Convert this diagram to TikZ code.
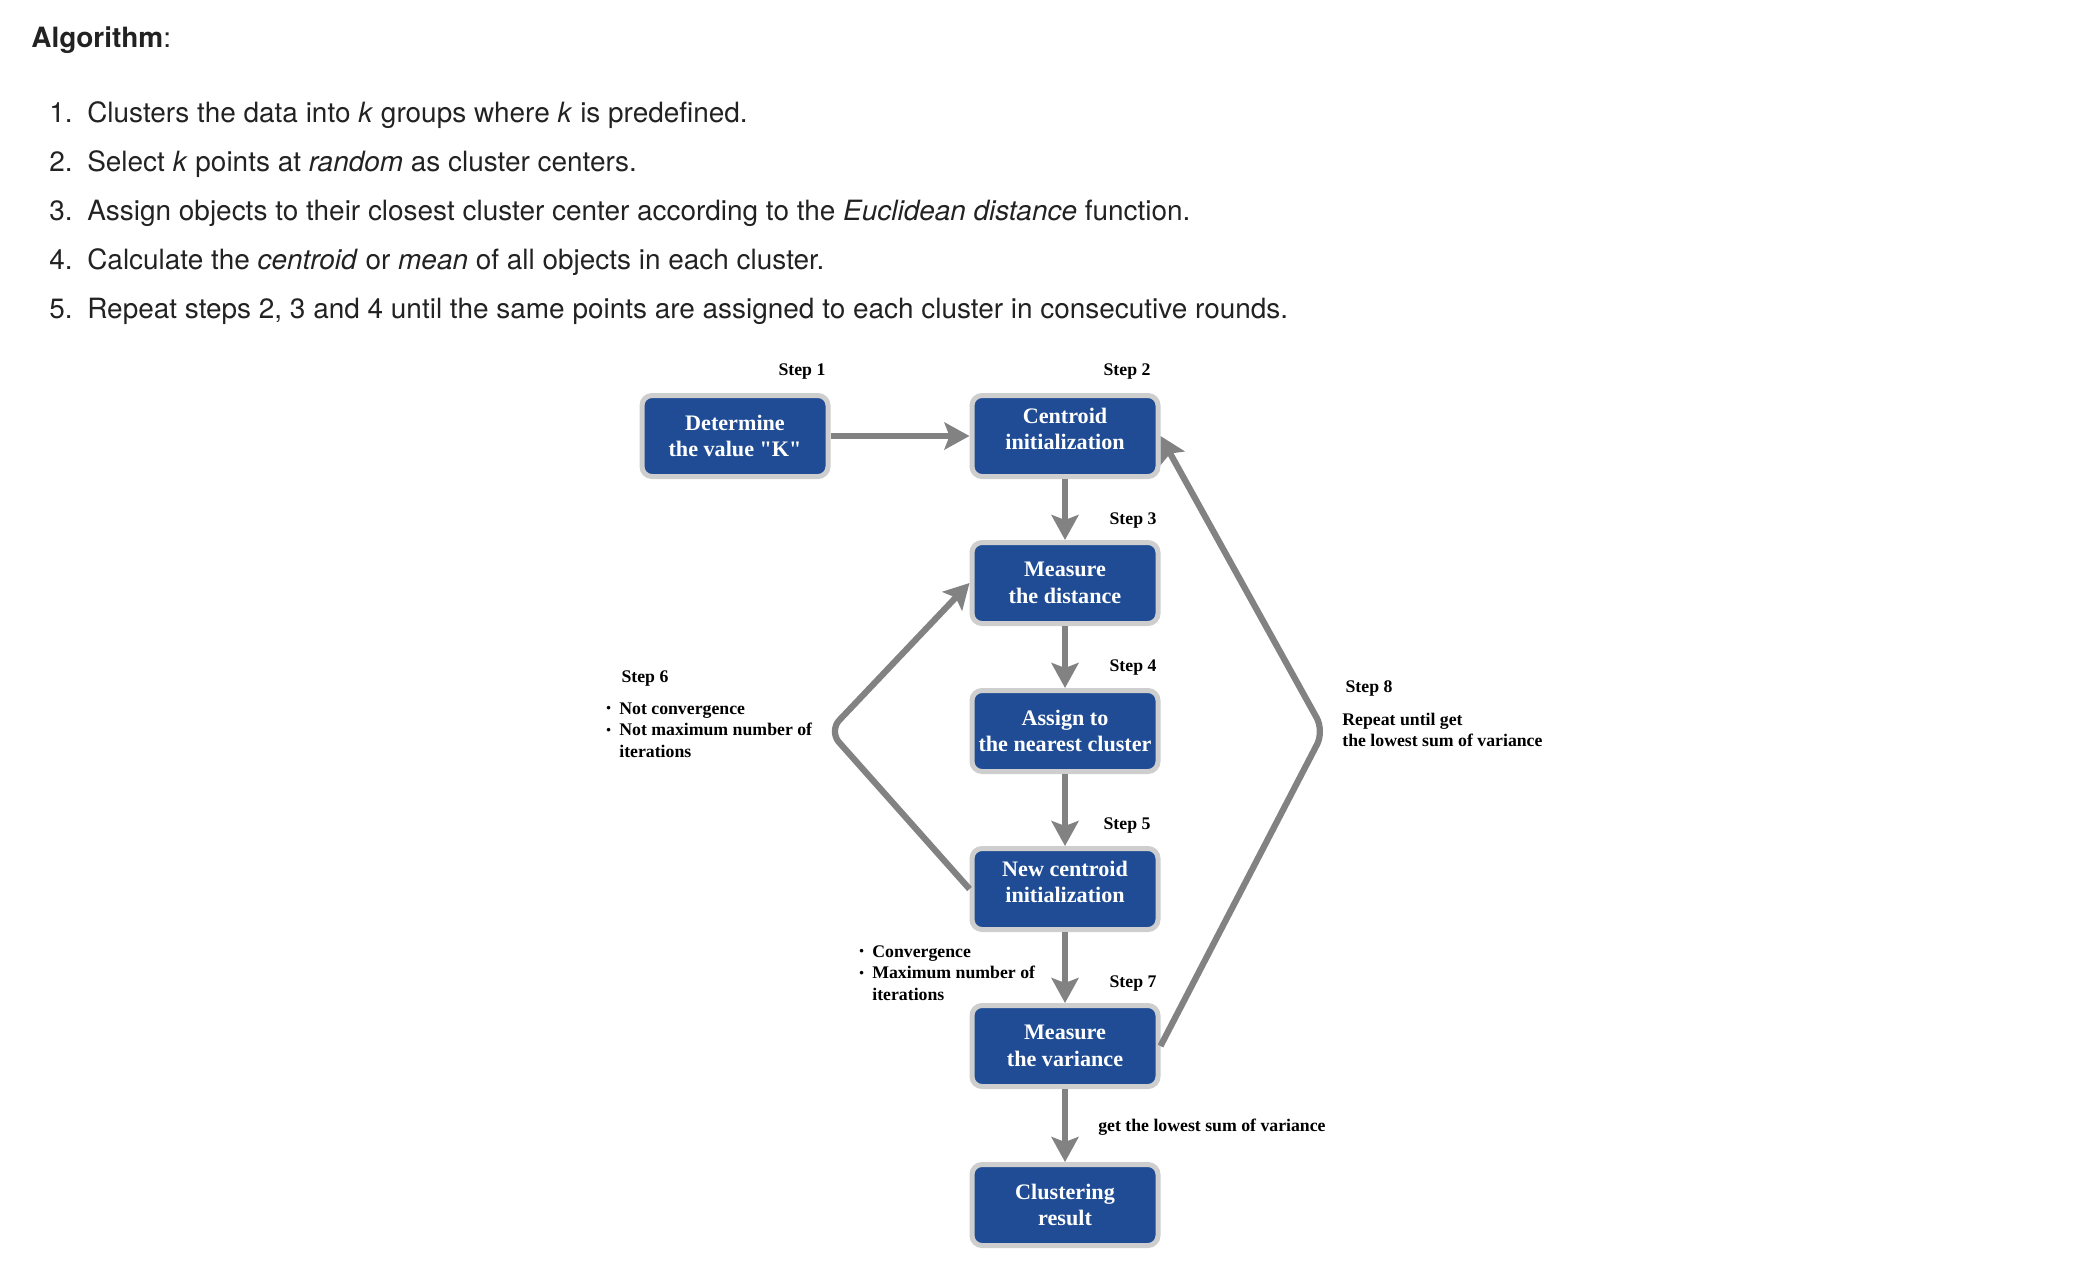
\documentclass[tikz,border=0pt]{standalone}
\usepackage{fontspec}
\setmainfont{Liberation Serif}
\newfontfamily\helv{TeX Gyre Heros}
\usetikzlibrary{arrows.meta}

\definecolor{boxblue}{RGB}{31,76,148}
\definecolor{boxrim}{RGB}{206,206,206}
\definecolor{flowgray}{RGB}{130,130,130}
\definecolor{inkgray}{RGB}{34,34,34}

\tikzset{
  stepbox/.style={rectangle, rounded corners=0.2cm, fill=boxblue, draw=boxrim,
    line width=0.1cm, minimum width=3.72cm, minimum height=1.62cm, inner sep=0pt,
    align=center, text=white, font=\fontsize{12.6pt}{15.1pt}\selectfont\bfseries},
  flow/.style={draw=flowgray, line width=0.125cm,
    -{Stealth[length=0.5cm,width=0.54cm,inset=0.1cm]}},
  steplabel/.style={inner sep=0pt, font=\fontsize{10.1pt}{12.1pt}\selectfont\bfseries},
  note/.style={steplabel, align=left, anchor=west},
  listline/.style={anchor=base west, inner sep=0pt, text=inkgray,
    font=\helv\fontsize{15.9pt}{19pt}\selectfont},
}
\newcommand{\bul}{\makebox[0.26cm][l]{\raisebox{0.2ex}{\fontsize{7.5pt}{7.5pt}\selectfont\textbullet}}}
\newcommand{\lift}{\rule[-0.28cm]{0pt}{0pt}}

\begin{document}
\begin{tikzpicture}
  \useasboundingbox (0,0) rectangle (41.68,-25.36);

  % header and list
  \node[listline] (algo) at (0.62,-0.94) {\textbf{Algorithm}:};
  \node[listline] (l1) at (0.98,-2.44) {\makebox[0.76cm][l]{1.}Clusters the data into \textit{k} groups where \textit{k} is predefined.};
  \node[listline] (l2) at (0.98,-3.42) {\makebox[0.76cm][l]{2.}Select \textit{k} points at \textit{random} as cluster centers.};
  \node[listline] (l3) at (0.98,-4.40) {\makebox[0.76cm][l]{3.}Assign objects to their closest cluster center according to the \textit{Euclidean distance} function.};
  \node[listline] (l4) at (0.98,-5.38) {\makebox[0.76cm][l]{4.}Calculate the \textit{centroid} or \textit{mean} of all objects in each cluster.};
  \node[listline] (l5) at (0.98,-6.36) {\makebox[0.76cm][l]{5.}Repeat steps 2, 3 and 4 until the same points are assigned to each cluster in consecutive rounds.};

  % boxes
  \node[stepbox] (detk)   at (14.70,-8.72)  {Determine\\the value \textquotedbl K\textquotedbl};
  \node[stepbox] (cinit)  at (21.30,-8.72)  {Centroid\\initialization\lift};
  \node[stepbox] (dist)   at (21.30,-11.66) {Measure\\the distance};
  \node[stepbox] (assign) at (21.30,-14.62) {Assign to\\the nearest cluster};
  \node[stepbox] (newc)   at (21.30,-17.78) {New centroid\\initialization\lift};
  \node[stepbox] (var)    at (21.30,-20.92) {Measure\\the variance};
  \node[stepbox] (res)    at (21.30,-24.10) {Clustering\\result};

  \node[steplabel] (s1) at (16.04,-7.44)  {Step 1};
  \node[steplabel] (s2) at (22.54,-7.44)  {Step 2};
  \node[steplabel] (s3) at (22.66,-10.40) {Step 3};
  \node[steplabel] (s4) at (22.66,-13.34) {Step 4};
  \node[steplabel] (s5) at (22.54,-16.50) {Step 5};
  \node[steplabel] (s6) at (12.90,-13.56) {Step 6};
  \node[steplabel] (s7) at (22.66,-19.66) {Step 7};
  \node[steplabel] (s8) at (27.38,-13.76) {Step 8};

  \draw[flow] (detk) -- (cinit);
  \draw[flow] (cinit) -- (dist);
  \draw[flow] (dist) -- (assign);
  \draw[flow] (assign) -- (newc);
  \draw[flow] (newc) -- (var);
  \draw[flow] (var) -- (res);

  % the two loops
  \coordinate (bend6) at (16.58,-14.62);
  \coordinate (bend8) at (26.48,-14.62);
  \draw[flow, rounded corners=0.3cm] (newc.west) -- (bend6) -- (dist.west);
  \draw[flow, rounded corners=0.3cm] (var.east) -- (bend8) -- (cinit.east);

  \node[note] (n6) at (12.12,-14.60) {\bul Not convergence\\\bul Not maximum number of\\\hspace*{0.26cm}iterations};
  \node[note] (n7) at (17.18,-19.46) {\bul Convergence\\\bul Maximum number of\\\hspace*{0.26cm}iterations};
  \node[note] (n8) at (26.84,-14.60) {Repeat until get\\the lowest sum of variance};
  \node[note] (nlow) at (21.96,-22.54) {get the lowest sum of variance};
  %\draw[help lines] (0,0) grid (41,-25);
\end{tikzpicture}
\end{document}
